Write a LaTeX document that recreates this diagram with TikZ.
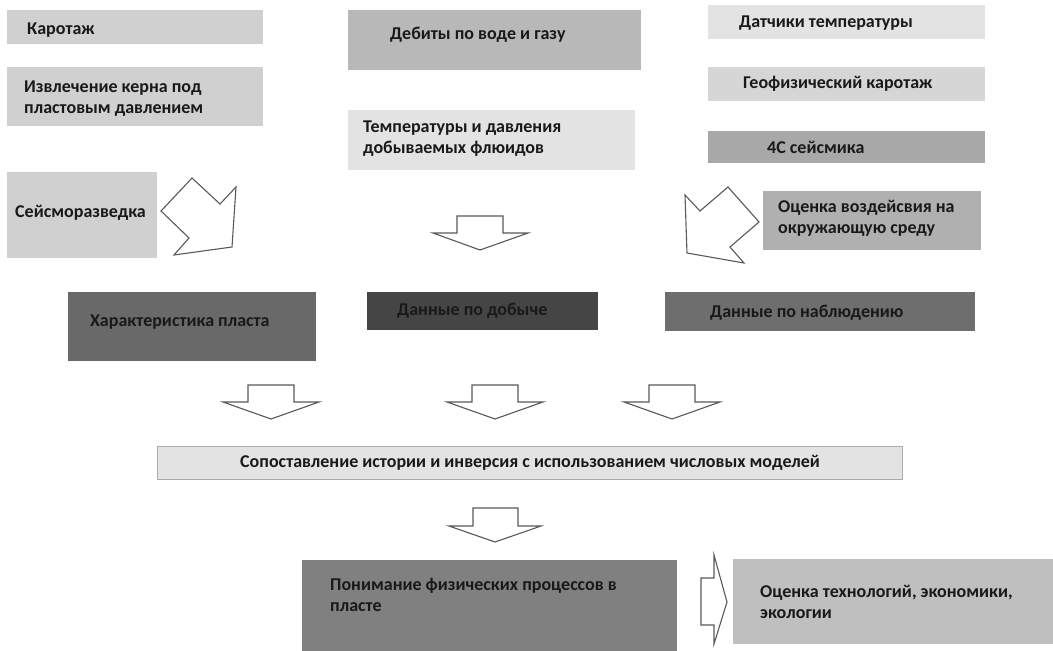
\documentclass[tikz,border=0pt]{standalone}
\usepackage{fontspec}
\setmainfont{Carlito}
\usepackage{xcolor}
\usepackage{tikz}
\definecolor{inktext}{gray}{0.1}
\definecolor{arrowgrey}{gray}{0.35}
\definecolor{lineA}{gray}{0.67}
\definecolor{grA}{gray}{0.89}
\definecolor{grB}{gray}{0.84}
\definecolor{grC}{gray}{0.815}
\definecolor{grD}{gray}{0.75}
\definecolor{grE}{gray}{0.72}
\definecolor{grF}{gray}{0.69}
\definecolor{grG}{gray}{0.66}
\definecolor{grH}{gray}{0.50}
\definecolor{grI}{gray}{0.43}
\definecolor{grJ}{gray}{0.41}
\definecolor{grK}{gray}{0.27}
\tikzstyle{block} = [rectangle, anchor=north west, inner sep=0pt]
\tikzstyle{txt} = [anchor=west, align=left, inner sep=0pt, text=inktext, font=\fontsize{18}{21}\selectfont\bfseries]
\tikzstyle{fatarrow} = [draw=arrowgrey, fill=white, line width=1.1pt, line join=miter]

\begin{document}
\begin{tikzpicture}[x=1pt, y=-1pt]
        \useasboundingbox (0,0) rectangle (1053,651);

        % Left column
        \node [block, fill=grC, minimum width=256pt, minimum height=34pt, label={[txt, xshift=20pt, yshift=-3pt]west:Каротаж}] (karotazh) at (7,10) {};
        \node [block, fill=grC, minimum width=256pt, minimum height=59pt, label={[txt, xshift=17pt, yshift=-2pt]west:Извлечение керна под\\пластовым давлением}] (kern) at (7,67) {};
        \node [block, fill=grC, minimum width=150pt, minimum height=86pt, label={[txt, xshift=8pt, yshift=2pt]west:Сейсморазведка}] (seismo) at (7,172) {};

        % Middle column
        \node [block, fill=grE, minimum width=293pt, minimum height=60pt, label={[txt, xshift=42pt, yshift=5pt]west:Дебиты по воде и газу}] (debit) at (348,10) {};
        \node [block, fill=grA, minimum width=287pt, minimum height=60pt, label={[txt, xshift=15pt, yshift=2pt]west:Температуры и давления\\добываемых флюидов}] (temp) at (348,110) {};

        % Right column
        \node [block, fill=grA, minimum width=277pt, minimum height=34pt, label={[txt, xshift=31pt, yshift=-1pt]west:Датчики температуры}] (datchik) at (708,5) {};
        \node [block, fill=grB, minimum width=277pt, minimum height=34pt, label={[txt, xshift=35pt]west:Геофизический каротаж}] (geofiz) at (708,67) {};
        \node [block, fill=grG, minimum width=277pt, minimum height=32pt, label={[txt, xshift=59pt]west:4С сейсмика}] (seism4c) at (708,131) {};
        \node [block, fill=grF, minimum width=218pt, minimum height=59pt, label={[txt, xshift=15pt, yshift=2pt]west:Оценка воздейсвия на\\окружающую среду}] (okrsreda) at (763,191) {};

        % Data row
        \node [block, fill=grJ, minimum width=248pt, minimum height=69pt, label={[txt, xshift=22pt, yshift=5pt]west:Характеристика пласта}] (plast) at (68,292) {};
        \node [block, fill=grK, minimum width=231pt, minimum height=38pt, label={[txt, xshift=30pt]west:Данные по добыче}] (dobycha) at (367,292) {};
        \node [block, fill=grI, minimum width=310pt, minimum height=39pt, label={[txt, xshift=45pt, yshift=-1pt]west:Данные по наблюдению}] (nabl) at (665,292) {};

        % Matching
        \node [block, fill=grA, draw=lineA, line width=1pt, minimum width=745pt, minimum height=33pt, inner sep=0pt, text=inktext, font=\fontsize{18}{21}\selectfont\bfseries] (sopost) at (157,446) {Сопоставление истории и инверсия с использованием числовых моделей};

        % Results
        \node [block, fill=grH, minimum width=375pt, minimum height=91pt, label={[txt, xshift=28pt, yshift=11pt]west:Понимание физических процессов в\\пласте}] (ponim) at (302,560) {};
        \node [block, fill=grD, minimum width=320pt, minimum height=85pt, label={[txt, xshift=27pt]west:{Оценка технологий, экономики,\\экологии}}] (ocenka) at (733,559) {};

        % Block arrows
        \draw [fatarrow] (161,211) -- (192,178) -- (220,204) -- (236,187) -- (232,247) -- (174,255) -- (189,238) -- cycle;
        \draw [fatarrow] (685,195) -- (700,211) -- (728,187) -- (759,222) -- (730,247) -- (744,263) -- (687,253) -- cycle;
        \draw [fatarrow] (457,216) -- (503,216) -- (503,233) -- (528,233) -- (480,250) -- (433,233) -- (457,233) -- cycle;
        \foreach \cx in {271,495,672}
            \draw [fatarrow] ({\cx-23},385) -- ({\cx+23},385) -- ({\cx+23},402) -- ({\cx+48},402) -- (\cx,419) -- ({\cx-48},402) -- ({\cx-23},402) -- cycle;
        \draw [fatarrow] (473,508) -- (518,508) -- (518,526) -- (541,526) -- (495,542) -- (449,526) -- (473,526) -- cycle;
        \draw [fatarrow] (701,578) -- (714,578) -- (714,555) -- (727,602) -- (714,644) -- (714,625) -- (701,625) -- cycle;
\end{tikzpicture}
\end{document}
